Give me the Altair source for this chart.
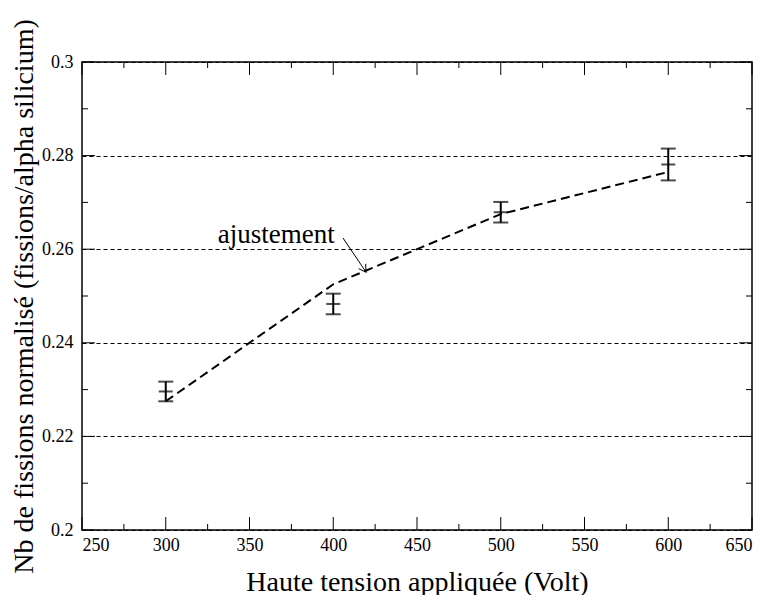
import altair as alt
import pandas as pd

# ---- data ----
volts = [300, 400, 500, 600]
means = [0.2296, 0.2483, 0.2679, 0.2781]
errs = [0.0021, 0.0022, 0.0022, 0.0034]
fit_values = [0.2275, 0.2525, 0.2675, 0.2765]

x_major = [250, 300, 350, 400, 450, 500, 550, 600, 650]
x_minor = [275, 325, 375, 425, 475, 525, 575, 625]
y_major = [0.2, 0.22, 0.24, 0.26, 0.28, 0.3]
y_minor = [0.21, 0.23, 0.25, 0.27, 0.29]

label_text = ["ajustement"]
label_x = [366]
label_y = [0.2613]
arrow_x = [405.8, 419.6]
arrow_y = [0.2624, 0.2551]

FONT = "Liberation Serif"
W, H = 670, 468

pts = pd.DataFrame({
    "v": volts,
    "m": means,
    "lo": [m - e for m, e in zip(means, errs)],
    "hi": [m + e for m, e in zip(means, errs)],
})
fit = pd.DataFrame({"v": volts, "f": fit_values})

xs = alt.Scale(domain=[250, 650], nice=False, zero=False)
ys = alt.Scale(domain=[0.2, 0.3], nice=False, zero=False)

xaxis = alt.Axis(values=x_major, title="Haute tension appliquée (Volt)",
                 ticks=False, domain=False, grid=False,
                 labelFont=FONT, labelFontSize=18, labelColor="black",
                 labelPadding=6, labelBaseline="top",
                 titleFont=FONT, titleFontSize=28, titleFontWeight="normal",
                 titleColor="black", titleY=60, titleBaseline="alphabetic")
yaxis = alt.Axis(values=y_major, format="~g",
                 title="Nb de fissions normalisé (fissions/alpha silicium)",
                 ticks=False, domain=False, grid=True,
                 gridDash=[4, 3], gridColor="black", gridWidth=1, gridOpacity=1,
                 labelFont=FONT, labelFontSize=18, labelColor="black",
                 labelPadding=9,
                 titleFont=FONT, titleFontSize=28, titleFontWeight="normal",
                 titleColor="black", titleX=-58, titleY=H / 2,
                 titleBaseline="middle", titleAlign="center", titleAngle=270)

base = alt.Chart(pts)

fit_line = alt.Chart(fit).mark_line(color="black", strokeWidth=2, strokeDash=[9, 5]).encode(
    x=alt.X("v:Q", scale=xs, axis=xaxis),
    y=alt.Y("f:Q", scale=ys, axis=yaxis),
)

bars = base.mark_rule(color="black", strokeWidth=2).encode(
    x=alt.X("v:Q", scale=xs, axis=xaxis), y=alt.Y("lo:Q", scale=ys, axis=yaxis), y2="hi:Q")
cap_lo = base.mark_tick(color="black", thickness=2, size=15, orient="horizontal").encode(
    x=alt.X("v:Q", scale=xs, axis=xaxis), y=alt.Y("lo:Q", scale=ys, axis=yaxis))
cap_hi = base.mark_tick(color="black", thickness=2, size=15, orient="horizontal").encode(
    x=alt.X("v:Q", scale=xs, axis=xaxis), y=alt.Y("hi:Q", scale=ys, axis=yaxis))
cap_mid = base.mark_tick(color="black", thickness=2, size=14, orient="horizontal").encode(
    x=alt.X("v:Q", scale=xs, axis=xaxis), y=alt.Y("m:Q", scale=ys, axis=yaxis))

lab = alt.Chart(pd.DataFrame({"t": label_text, "x": label_x, "y": label_y})).mark_text(
    font=FONT, fontSize=27, color="black", baseline="alphabetic", align="center"
).encode(x=alt.X("x:Q", scale=xs, axis=xaxis), y=alt.Y("y:Q", scale=ys, axis=yaxis), text="t:N")

arrow_df = pd.DataFrame({"x": arrow_x, "y": arrow_y, "o": [0, 1]})
arrow = alt.Chart(arrow_df).mark_line(color="black", strokeWidth=1).encode(
    x=alt.X("x:Q", scale=xs, axis=xaxis), y=alt.Y("y:Q", scale=ys, axis=yaxis), order="o:Q")
head = alt.Chart(arrow_df.iloc[[1]]).mark_point(
    shape="M -1 -0.6 L 0 0 L -1 0.6", filled=False, stroke="black", strokeWidth=1,
    size=200, angle=56, opacity=1
).encode(x=alt.X("x:Q", scale=xs, axis=xaxis), y=alt.Y("y:Q", scale=ys, axis=yaxis))

def xt(vals, length):
    d = alt.Chart(pd.DataFrame({"v": vals}))
    b = d.mark_rule(color="black", strokeWidth=1).encode(
        x=alt.X("v:Q", scale=xs, axis=xaxis), y=alt.value(H), y2=alt.value(H - length))
    t = d.mark_rule(color="black", strokeWidth=1).encode(
        x=alt.X("v:Q", scale=xs, axis=xaxis), y=alt.value(0), y2=alt.value(length))
    return [b, t]

def yt(vals, length):
    d = alt.Chart(pd.DataFrame({"v": vals}))
    l = d.mark_rule(color="black", strokeWidth=1).encode(
        y=alt.Y("v:Q", scale=ys, axis=yaxis), x=alt.value(0), x2=alt.value(length))
    r = d.mark_rule(color="black", strokeWidth=1).encode(
        y=alt.Y("v:Q", scale=ys, axis=yaxis), x=alt.value(W), x2=alt.value(W - length))
    return [l, r]

layers = [fit_line, bars, cap_lo, cap_hi, cap_mid, lab, arrow, head]
layers += xt(x_major, 13) + xt(x_minor, 6) + yt(y_major, 13) + yt(y_minor, 6)

chart = alt.layer(*layers).properties(
    width=W, height=H,
    autosize=alt.AutoSizeParams(type="none"),
    padding={"left": 74, "top": 54, "right": 10, "bottom": 65},
).configure(
    background="white", font=FONT
).configure_view(
    stroke="black", strokeWidth=1.5
).configure_axis(
    labelFont=FONT, titleFont=FONT
).configure_text(font=FONT)

chart.save("out.html", embed_options={"renderer": "svg", "actions": False})
